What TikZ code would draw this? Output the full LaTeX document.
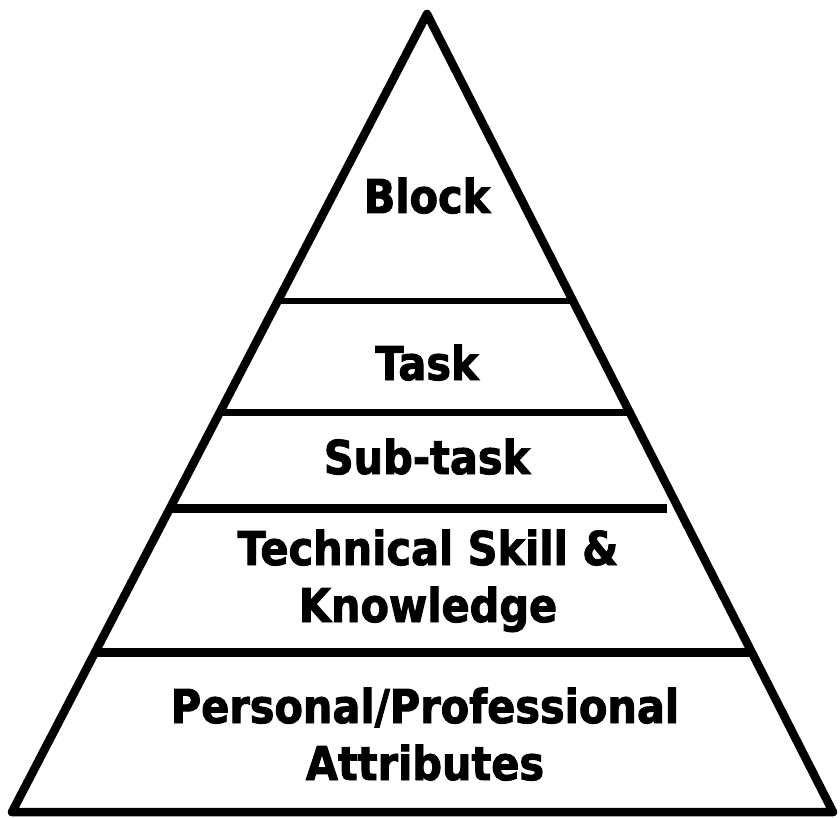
\documentclass[tikz,border=0pt]{standalone}
\usepackage{fontspec}
\setmainfont{DejaVu Sans}[BoldFont={DejaVu Sans Bold},BoldFeatures={FakeStretch=0.89,FakeBold=2}]
\begin{document}
\begin{tikzpicture}[x=1pt,y=-1pt,
  edge/.style={line width=8.5pt,line join=round},
  tier/.style={line width=#1},
  lbl/.style={font=\fontsize{46.6}{57}\selectfont\bfseries,anchor=base,inner sep=0pt,align=center}]
\useasboundingbox (0,0) rectangle (840,818);
\coordinate (apex) at (427,14);
\coordinate (bl) at (12,812);
\coordinate (br) at (833,812);
\draw[edge] (apex) -- (bl) -- (br) -- cycle;
\coordinate (l1a) at (278,301); \coordinate (l1b) at (573,301);
\coordinate (l2a) at (220,412); \coordinate (l2b) at (630,412);
\coordinate (l3a) at (170,508.5); \coordinate (l3b) at (667,508.5);
\coordinate (l4a) at (95,652.5); \coordinate (l4b) at (752,652.5);
\draw[tier=6pt] (l1a) -- (l1b);
\draw[tier=7pt] (l2a) -- (l2b);
\draw[tier=9pt] (l3a) -- (l3b);
\draw[tier=9pt] (l4a) -- (l4b);
\node[lbl] (block) at (427,213) {Block};
\node[lbl] (task) at (427,380) {Task};
\node[lbl] (sub) at (427,474) {Sub-task};
\node[lbl] (tech) at (428,565) {Technical Skill \&};
\node[lbl] (know) at (428,622) {Knowledge};
\node[lbl] (pers) at (425,723) {Personal/Professional};
\node[lbl] (attr) at (425,780) {Attributes};
\end{tikzpicture}
\end{document}
